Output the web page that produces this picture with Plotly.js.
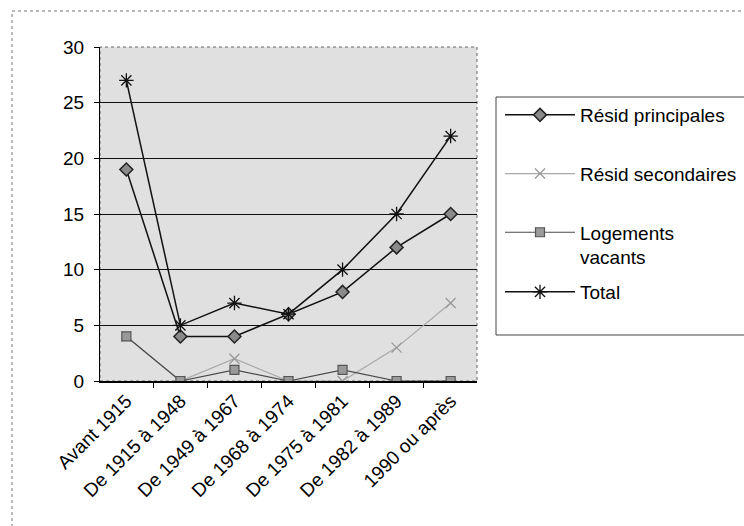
<!DOCTYPE html>
<html>
<head>
<meta charset="utf-8">
<script src="https://cdn.plot.ly/plotly-3.0.1.min.js"></script>
<style>html,body{margin:0;padding:0;background:#fff;}#chart{width:744px;height:526px;}</style>
</head>
<body>
<div id="chart"></div>
<script>
var categories = ["Avant 1915", "De 1915 à 1948", "De 1949 à 1967", "De 1968 à 1974", "De 1975 à 1981", "De 1982 à 1989", "1990 ou après"];
var residPrincipales = [19, 4, 4, 6, 8, 12, 15];
var residSecondaires = [4, 0, 2, 0, 0, 3, 7];
var logementsVacants = [4, 0, 1, 0, 1, 0, 0];
var total = [27, 5, 7, 6, 10, 15, 22];
var yTicks = [0, 5, 10, 15, 20, 25, 30];

var FONT = "Liberation Sans, Arial, sans-serif";

var traces = [
  {x: categories, y: residPrincipales, name: "Résid principales", type: "scatter", mode: "lines+markers",
   legend: "legend", legendgroup: "a",
   line: {color: "#111", width: 1.5},
   marker: {symbol: "diamond", size: 10, color: "#8a8a8a", line: {color: "#222", width: 1.5}}},
  {x: categories, y: residSecondaires, name: "Résid secondaires", type: "scatter", mode: "lines+markers",
   legend: "legend", legendgroup: "b",
   line: {color: "#a8a8a8", width: 1.2},
   marker: {symbol: "x-thin-open", size: 10, color: "#999", line: {color: "#999", width: 1.3}}},
  {x: categories, y: logementsVacants, name: "Logements<br>vacants", type: "scatter", mode: "lines+markers",
   legend: "legend", legendgroup: "c",
   line: {color: "#4a4a4a", width: 1.2},
   marker: {symbol: "square", size: 9, color: "#9a9a9a", line: {color: "#555", width: 1.2}}},
  {x: categories, y: total, name: "Total", type: "scatter", mode: "lines+markers",
   legend: "legend2", legendgroup: "d",
   line: {color: "#111", width: 1.5},
   marker: {symbol: "asterisk-open", size: 12, color: "#111", line: {color: "#111", width: 1.3}}}
];

var px = function (p) { return (p - 100) / 377; };
var py = function (p) { return (381 - p) / 334; };

var layout = {
  width: 744, height: 526,
  margin: {l: 100, r: 267, t: 47, b: 145, pad: 0, autoexpand: false},
  paper_bgcolor: "#ffffff",
  plot_bgcolor: "#e0e0e0",
  font: {family: FONT, size: 19, color: "#000"},
  showlegend: true,
  xaxis: {
    type: "category", tickangle: -45, tickson: "boundaries",
    ticks: "outside", ticklen: 5, tickcolor: "#000",
    showline: true, linecolor: "#000", linewidth: 1.5,
    showgrid: false, zeroline: false, automargin: false,
    tickfont: {family: FONT, size: 19, color: "#000"}
  },
  yaxis: {
    range: [0, 30], tickvals: yTicks, ticktext: yTicks.map(String),
    ticks: "outside", ticklen: 5, tickcolor: "#000",
    showline: true, linecolor: "#000", linewidth: 1,
    showgrid: true, gridcolor: "#111", gridwidth: 1,
    zeroline: false, ticklabelstandoff: 6, automargin: false,
    tickfont: {family: FONT, size: 19, color: "#000"}
  },
  legend: {
    x: px(500), xanchor: "left", y: py(96), yanchor: "top",
    bgcolor: "rgba(0,0,0,0)", borderwidth: 0,
    traceorder: "grouped", tracegroupgap: 31, valign: "top",
    itemwidth: 70, font: {family: FONT, size: 19, color: "#000"}
  },
  legend2: {
    x: px(500), xanchor: "left", y: py(273), yanchor: "top",
    bgcolor: "rgba(0,0,0,0)", borderwidth: 0,
    itemwidth: 70, font: {family: FONT, size: 19, color: "#000"}
  },
  shapes: [
    {type: "rect", xref: "paper", yref: "paper", x0: px(12), x1: px(760), y0: py(540), y1: py(11),
     line: {color: "#777", width: 1, dash: "dot"}, fillcolor: "rgba(0,0,0,0)", layer: "below"},
    {type: "rect", xref: "paper", yref: "paper", x0: px(496), x1: px(760), y0: py(335), y1: py(97),
     line: {color: "#444", width: 1}, fillcolor: "rgba(255,255,255,0)", layer: "below"},
    {type: "rect", xref: "paper", yref: "paper", x0: 0, x1: 1, y0: 0, y1: 1,
     line: {color: "#666", width: 1, dash: "dot"}, fillcolor: "rgba(0,0,0,0)", layer: "below"}
  ]
};

Plotly.newPlot("chart", traces, layout, {displayModeBar: false, staticPlot: true});
</script>
</body>
</html>
